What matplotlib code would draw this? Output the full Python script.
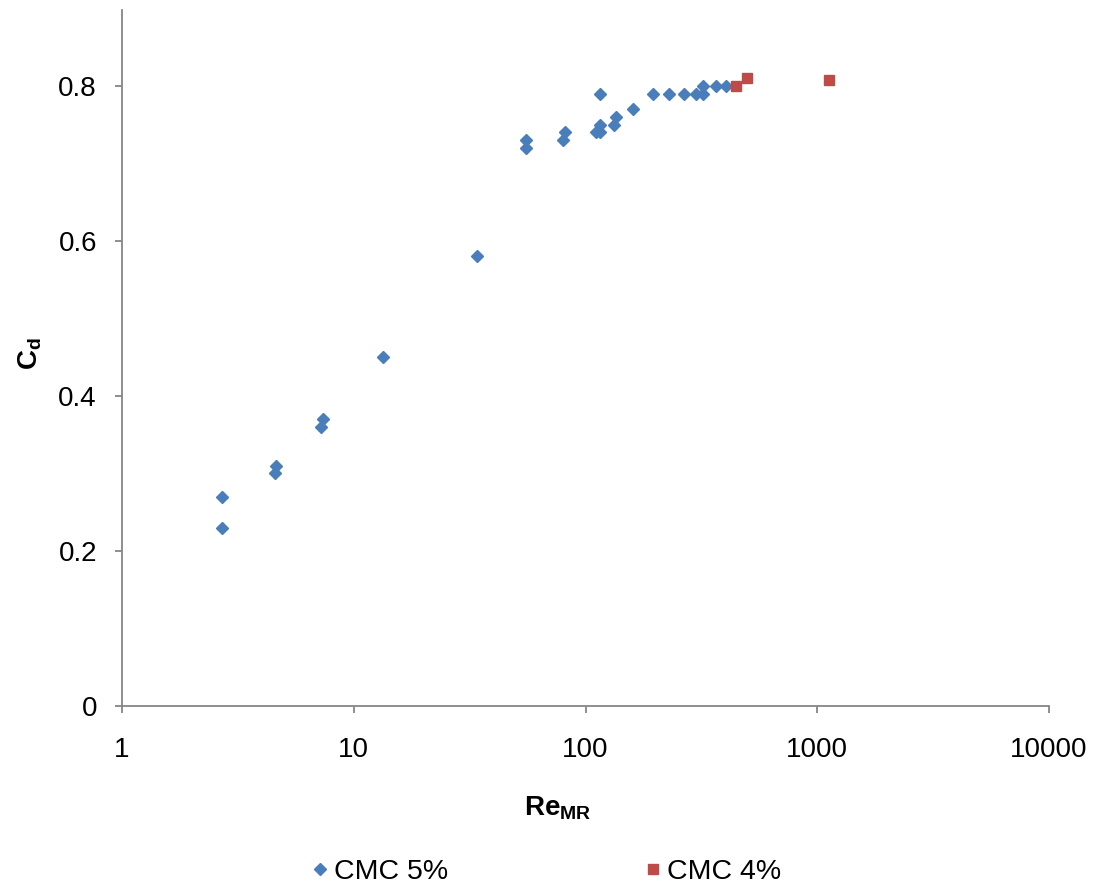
import matplotlib
matplotlib.use("Agg")
import matplotlib.pyplot as plt
from matplotlib.ticker import FixedLocator, NullLocator

plt.rcParams['font.family'] = ['Liberation Sans', 'DejaVu Sans']
plt.rcParams['mathtext.fontset'] = 'custom'
plt.rcParams['mathtext.rm'] = 'Liberation Sans'
plt.rcParams['mathtext.bf'] = 'Liberation Sans:bold'

# CMC 5% series
re_cmc5 = [2.70, 2.70, 4.62, 4.58, 7.37, 7.21, 13.4, 34.0, 55.4, 55.4,
           81.6, 80.2, 110.7, 115.5, 115.5, 115.5, 133.2, 134.9, 160.3,
           196, 228.6, 266, 300.8, 321, 321, 365.9, 404]
cd_cmc5 = [0.27, 0.23, 0.31, 0.30, 0.37, 0.36, 0.45, 0.58, 0.73, 0.72,
           0.74, 0.73, 0.74, 0.74, 0.75, 0.79, 0.75, 0.76, 0.77,
           0.79, 0.79, 0.79, 0.79, 0.79, 0.80, 0.80, 0.80]

# CMC 4% series
re_cmc4 = [447.6, 496, 1124]
cd_cmc4 = [0.80, 0.81, 0.808]

x_ticks = [1, 10, 100, 1000, 10000]
x_tick_labels = ['1', '10', '100', '1000', '10000']
y_ticks = [0, 0.2, 0.4, 0.6, 0.8]
y_tick_labels = ['0', '0.2', '0.4', '0.6', '0.8']

fig = plt.figure(figsize=(10.94, 8.86), dpi=100)
ax = fig.add_axes([0.1115, 0.2032, 0.8474, 0.7855])

blue = '#4A7EBB'
red = '#BE4B48'
ax.plot(re_cmc5, cd_cmc5, linestyle='none', marker='D', ms=6.5,
        color=blue, mec=blue, label='CMC 5%')
ax.plot(re_cmc4, cd_cmc4, linestyle='none', marker='s', ms=7.5,
        color=red, mec=red, label='CMC 4%')

ax.set_xscale('log')
ax.set_xlim(1, 10000)
ax.set_ylim(0, 0.898)
ax.xaxis.set_major_locator(FixedLocator(x_ticks))
ax.xaxis.set_minor_locator(NullLocator())
ax.set_xticklabels(x_tick_labels)
ax.set_yticks(y_ticks)
ax.set_yticklabels(y_tick_labels)

axis_color = '#868686'
for side in ['top', 'right']:
    ax.spines[side].set_visible(False)
for side in ['left', 'bottom']:
    ax.spines[side].set_color(axis_color)
    ax.spines[side].set_linewidth(1.3)
ax.tick_params(axis='both', direction='out', length=5, width=1.3,
               color=axis_color, labelsize=20, labelcolor='black')
ax.tick_params(axis='x', pad=17)
ax.tick_params(axis='y', pad=13)

fig.text(30 / 1094, 1 - 354 / 886, r'$\mathbf{C_d}$', rotation=90,
         ha='center', va='center', fontsize=20)
fig.text(558 / 1094, 1 - 808 / 886, r'$\mathbf{Re_{MR}}$',
         ha='center', va='center', fontsize=20)

leg = fig.legend(loc='center', bbox_to_anchor=(545 / 1094, 1 - 872 / 886),
                 ncol=2, frameon=False, fontsize=20.5, handletextpad=0.1,
                 columnspacing=6.8, handlelength=0.8, markerscale=0.9)

fig.savefig('out.png', dpi=100)
